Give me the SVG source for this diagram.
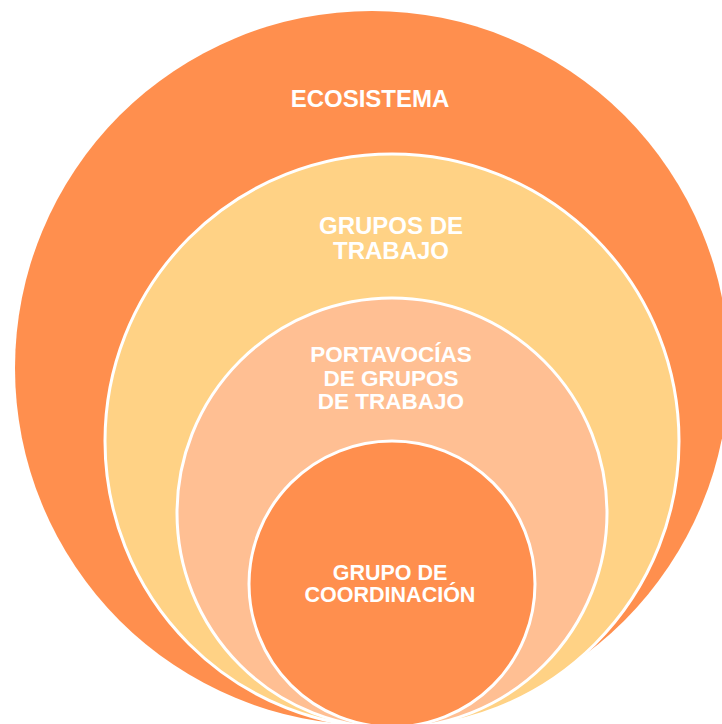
<svg xmlns="http://www.w3.org/2000/svg" width="722" height="724" viewBox="0 0 722 724">
  <style>
    .ring { stroke: #FFFFFF; stroke-width: 3; }
    .lbl { font-family: "Liberation Sans", Arial, sans-serif; font-weight: bold; fill: #FFFFFF; text-anchor: middle; }
  </style>
  <rect x="0" y="0" width="722" height="724" fill="#FFFFFF"/>
  <g id="ecosistema">
    <circle cx="372" cy="368" r="357" fill="#FF8F4E"/>
    <text class="lbl" x="370" y="107" font-size="24">ECOSISTEMA</text>
  </g>
  <g id="grupos-de-trabajo">
    <circle class="ring" cx="392" cy="441" r="287" fill="#FFD285"/>
    <text class="lbl" x="391" y="234" font-size="24">GRUPOS DE</text>
    <text class="lbl" x="391" y="258.5" font-size="24">TRABAJO</text>
  </g>
  <g id="portavocias">
    <circle class="ring" cx="392" cy="513" r="215" fill="#FFBF93"/>
    <text class="lbl" x="391" y="362" font-size="22.5">PORTAVOCÍAS</text>
    <text class="lbl" x="391" y="385.5" font-size="22.5">DE GRUPOS</text>
    <text class="lbl" x="391" y="409" font-size="22.5">DE TRABAJO</text>
  </g>
  <g id="grupo-de-coordinacion">
    <circle class="ring" cx="392" cy="584" r="143" fill="#FF8F4E"/>
    <text class="lbl" x="390" y="579.5" font-size="21.5">GRUPO DE</text>
    <text class="lbl" x="390" y="602" font-size="21.5">COORDINACIÓN</text>
  </g>
  <g id="connectors"/>
</svg>
